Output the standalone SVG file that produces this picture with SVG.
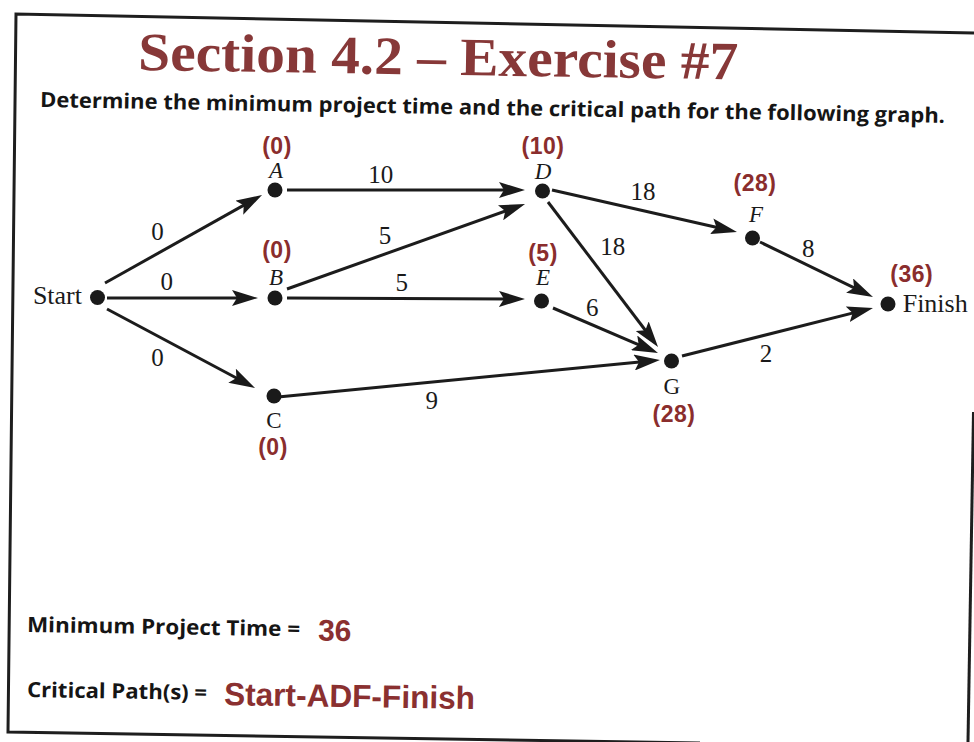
<svg xmlns="http://www.w3.org/2000/svg" width="974" height="742" viewBox="0 0 974 742">
<style>
.frame{fill:none;stroke:#1e1e1e;stroke-width:3}
.edge{fill:none;stroke:#1c1c1c;stroke-width:3;marker-end:url(#arr)}
.dot{fill:#1a1a1a}
.name{font-family:"Liberation Serif","Times New Roman",serif;font-size:23px;font-style:italic;fill:#1a1a1a;text-anchor:middle}
.nameR{font-family:"Liberation Serif","Times New Roman",serif;font-size:23px;fill:#1a1a1a;text-anchor:middle}
.term{font-family:"Liberation Serif","Times New Roman",serif;font-size:26px;fill:#1a1a1a}
.w{font-family:"Liberation Serif","Times New Roman",serif;font-size:25px;fill:#1a1a1a;text-anchor:middle}
.t{font-family:"Liberation Sans",Arial,sans-serif;font-size:23px;font-weight:bold;fill:#8a2d2d;text-anchor:middle;letter-spacing:0.5px}
.title{font-family:"Liberation Serif","Times New Roman",serif;font-size:54px;font-weight:bold;fill:#873838}
.sub{font-family:"Open Sans","Liberation Sans",sans-serif;font-size:21px;font-weight:bold;fill:#151515}
.ans{font-family:"Liberation Sans",Arial,sans-serif;font-weight:bold;fill:#8a3030}
</style>
<defs>
<marker id="arr" viewBox="0 0 26 16" refX="16" refY="8" markerWidth="26" markerHeight="16" markerUnits="userSpaceOnUse" orient="auto">
<path d="M0,0 L26,8 L0,16 L5,8 Z" fill="#1a1a1a"/>
</marker>
</defs>
<rect x="0" y="0" width="974" height="742" fill="#ffffff"/>
<g id="frame">
<polyline class="frame" points="974,33 16,14 8,732 700,743"/>
<line class="frame" x1="973.5" y1="412" x2="968" y2="742"/>
</g>
<g id="header">
<text class="title" x="138" y="70" textLength="600" lengthAdjust="spacingAndGlyphs" transform="rotate(0.9 138 70)">Section 4.2 – Exercise #7</text>
<text class="sub" x="40" y="107" textLength="905" lengthAdjust="spacingAndGlyphs" transform="rotate(1 40 107)">Determine the minimum project time and the critical path for the following graph.</text>
</g>
<g id="connectors">
<line class="edge" x1="105" y1="283" x2="253.3" y2="199.9"/>
<line class="edge" x1="107" y1="298" x2="248" y2="298"/>
<line class="edge" x1="107" y1="309" x2="246.2" y2="383.3"/>
<line class="edge" x1="287" y1="190" x2="515" y2="190"/>
<line class="edge" x1="287" y1="289" x2="515.6" y2="207.4"/>
<line class="edge" x1="287" y1="298" x2="515" y2="299"/>
<line class="edge" x1="278" y1="397" x2="650" y2="361"/>
<line class="edge" x1="552" y1="190" x2="727.2" y2="229.8"/>
<line class="edge" x1="548" y1="202" x2="652" y2="339"/>
<line class="edge" x1="553" y1="308" x2="648.8" y2="349.1"/>
<line class="edge" x1="682" y1="356" x2="863.3" y2="310.4"/>
<line class="edge" x1="760" y1="242" x2="864" y2="292.6"/>
<text class="w" x="157.5" y="240">0</text>
<text class="w" x="166.7" y="290">0</text>
<text class="w" x="157.5" y="366">0</text>
<text class="w" x="380.7" y="182.5">10</text>
<text class="w" x="385" y="244">5</text>
<text class="w" x="401.7" y="290.5">5</text>
<text class="w" x="431.7" y="409">9</text>
<text class="w" x="643" y="200">18</text>
<text class="w" x="612.7" y="255">18</text>
<text class="w" x="592.3" y="316">6</text>
<text class="w" x="808.3" y="257">8</text>
<text class="w" x="766" y="361.5">2</text>
</g>
<g id="node-start">
<circle class="dot" cx="97.5" cy="297.5" r="7.5"/>
<text class="term" x="82" y="304" text-anchor="end">Start</text>
</g>
<g id="node-a">
<circle class="dot" cx="275" cy="190" r="7.5"/>
<text class="name" x="276" y="178">A</text>
<text class="t" x="277" y="154">(0)</text>
</g>
<g id="node-b">
<circle class="dot" cx="275" cy="298" r="7.5"/>
<text class="name" x="276" y="285">B</text>
<text class="t" x="277" y="258">(0)</text>
</g>
<g id="node-c">
<circle class="dot" cx="274" cy="396" r="7.5"/>
<text class="nameR" x="274" y="428">C</text>
<text class="t" x="273" y="455">(0)</text>
</g>
<g id="node-d">
<circle class="dot" cx="542.5" cy="191" r="7.5"/>
<text class="name" x="543" y="178.5">D</text>
<text class="t" x="543" y="154">(10)</text>
</g>
<g id="node-e">
<circle class="dot" cx="541.5" cy="301" r="7.5"/>
<text class="name" x="543" y="285">E</text>
<text class="t" x="543" y="260.5">(5)</text>
</g>
<g id="node-f">
<circle class="dot" cx="752.5" cy="238" r="7.5"/>
<text class="name" x="756" y="221.5">F</text>
<text class="t" x="755" y="190.5">(28)</text>
</g>
<g id="node-g">
<circle class="dot" cx="671.5" cy="361" r="7.5"/>
<text class="nameR" x="671.7" y="394">G</text>
<text class="t" x="674" y="421.5">(28)</text>
</g>
<g id="node-finish">
<circle class="dot" cx="888" cy="304" r="7.5"/>
<text class="term" x="902.7" y="311.7">Finish</text>
<text class="t" x="911.7" y="281.5">(36)</text>
</g>
<g id="answers">
<g transform="rotate(0.9 27 632)">
<text class="sub" x="27" y="632" font-size="20" textLength="273" lengthAdjust="spacingAndGlyphs">Minimum Project Time =</text>
<text class="ans" x="318" y="636" font-size="30">36</text>
</g>
<g transform="rotate(0.9 27 697)">
<text class="sub" x="27" y="697" font-size="20" textLength="180" lengthAdjust="spacingAndGlyphs">Critical Path(s) =</text>
<text class="ans" x="224" y="702" font-size="32" textLength="251" lengthAdjust="spacingAndGlyphs">Start-ADF-Finish</text>
</g>
</g>
</svg>
